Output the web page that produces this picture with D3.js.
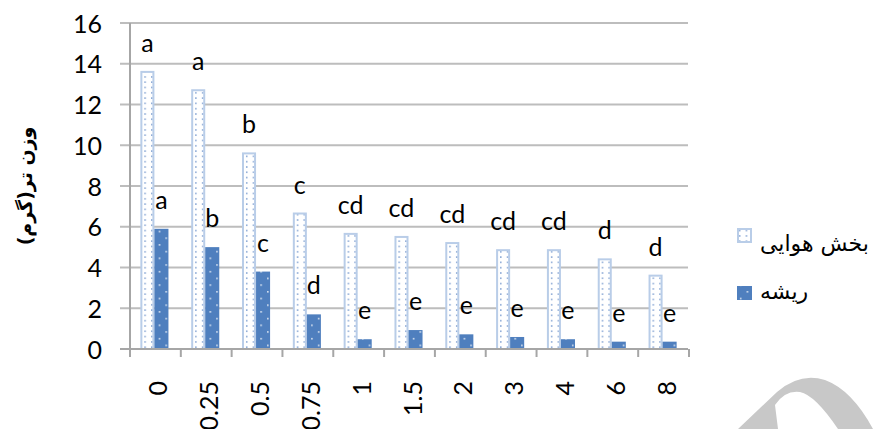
<!DOCTYPE html>
<html>
<head>
<meta charset="utf-8">
<script src="https://cdn.jsdelivr.net/npm/d3@7"></script>
<style>
  body { margin: 0; background: #fff; }
  svg { display: block; }
  .tick text { font-family: Lato, "Open Sans", sans-serif; fill: #000; }
</style>
</head>
<body>
<svg id="chart" width="874" height="429"></svg>
<script>
// values
var categories = ['0', '0.25', '0.5', '0.75', '1', '1.5', '2', '3', '4', '6', '8']
var aerial = [13.6, 12.7, 9.6, 6.65, 5.65, 5.5, 5.2, 4.85, 4.85, 4.4, 3.6]
var root = [5.9, 5.0, 3.8, 1.7, 0.48, 0.93, 0.72, 0.59, 0.48, 0.36, 0.36]
var aerialLetters = ['a', 'a', 'b', 'c', 'cd', 'cd', 'cd', 'cd', 'cd', 'd', 'd']
var rootLetters = ['a', 'b', 'c', 'd', 'e', 'e', 'e', 'e', 'e', 'e', 'e']
var yTicks = [0, 2, 4, 6, 8, 10, 12, 14, 16]
var seriesNames = ['بخش هوایی', 'ریشه']
var yTitle = 'وزن تر(گرم)'

var svg = d3.select('#chart')
var plotLeft = 129, plotRight = 688, plotTop = 23, plotBottom = 349

var defs = svg.append('defs')
var pA = defs.append('pattern').attr('id', 'patAerial').attr('patternUnits', 'userSpaceOnUse')
  .attr('width', 6.7).attr('height', 5.3)
pA.append('rect').attr('width', 6.7).attr('height', 5.3).attr('fill', '#fff')
pA.append('rect').attr('x', 2).attr('y', 2).attr('width', 1.4).attr('height', 1.4).attr('fill', '#6d93cb')

var pR = defs.append('pattern').attr('id', 'patRoot').attr('patternUnits', 'userSpaceOnUse')
  .attr('width', 13.4).attr('height', 13.4)
pR.append('rect').attr('width', 13.4).attr('height', 13.4).attr('fill', '#4f7fbe')
pR.append('rect').attr('x', 3).attr('y', 3).attr('width', 1.4).attr('height', 1.4).attr('fill', '#fff')
pR.append('rect').attr('x', 9.7).attr('y', 9.7).attr('width', 1.4).attr('height', 1.4).attr('fill', '#fff')

var x = d3.scaleBand().domain(categories).range([plotLeft, plotRight]).paddingInner(0).paddingOuter(0)
var x1 = d3.scaleBand().domain(['aerial', 'root']).range([0, x.bandwidth()]).paddingInner(0).paddingOuter(0.81)
var y = d3.scaleLinear().domain([0, 16]).range([plotBottom, plotTop])

// gridlines + left tick stubs
svg.append('g').selectAll('line').data(yTicks).enter().append('line')
  .attr('x1', 120).attr('x2', plotRight)
  .attr('y1', function (d) { return y(d) }).attr('y2', function (d) { return y(d) })
  .attr('stroke', '#bdbdbd').attr('stroke-width', 2)

// y axis labels
var yAxis = svg.append('g').attr('transform', 'translate(102,1)')
  .call(d3.axisLeft(y).tickValues(yTicks).tickSize(0).tickPadding(0))
yAxis.select('.domain').remove()
yAxis.selectAll('text').attr('font-size', 25).attr('text-anchor', 'end').attr('x', 0)

// y axis line
svg.append('line').attr('x1', plotLeft + 1).attr('x2', plotLeft + 1).attr('y1', y(16)).attr('y2', plotBottom + 8)
  .attr('stroke', '#a6a6a6').attr('stroke-width', 2)

// bars
var groups = svg.append('g').selectAll('g').data(categories).enter().append('g')
  .attr('transform', function (d) { return 'translate(' + x(d) + ',0)' })

groups.append('rect')
  .attr('x', x1('aerial') + 1).attr('width', x1.bandwidth() - 2)
  .attr('y', function (d, i) { return y(aerial[i]) })
  .attr('height', function (d, i) { return plotBottom - y(aerial[i]) })
  .attr('fill', 'url(#patAerial)').attr('stroke', '#b9cde8').attr('stroke-width', 2)

groups.append('rect')
  .attr('x', x1('root')).attr('width', x1.bandwidth())
  .attr('y', function (d, i) { return y(root[i]) })
  .attr('height', function (d, i) { return plotBottom - y(root[i]) })
  .attr('fill', 'url(#patRoot)')

// letters
var lf = 'Lato, "Open Sans", sans-serif'
groups.append('text')
  .attr('x', x1('aerial') + x1.bandwidth() / 2)
  .attr('y', function (d, i) { return y(aerial[i]) - 20 })
  .attr('text-anchor', 'middle').attr('font-family', lf).attr('font-size', 25)
  .text(function (d, i) { return aerialLetters[i] })
groups.append('text')
  .attr('x', x1('root') + x1.bandwidth() / 2)
  .attr('y', function (d, i) { return y(root[i]) - 20 })
  .attr('text-anchor', 'middle').attr('font-family', lf).attr('font-size', 25)
  .text(function (d, i) { return rootLetters[i] })

// x axis
svg.append('line').attr('x1', 120).attr('x2', plotRight).attr('y1', plotBottom).attr('y2', plotBottom)
  .attr('stroke', '#a6a6a6').attr('stroke-width', 2)
var bounds = categories.map(function (c) { return x(c) }).concat([plotRight])
svg.append('g').selectAll('line').data(bounds).enter().append('line')
  .attr('x1', function (d) { return d + 1 }).attr('x2', function (d) { return d + 1 })
  .attr('y1', plotBottom).attr('y2', plotBottom + 8)
  .attr('stroke', '#a6a6a6').attr('stroke-width', 2)

svg.append('g').selectAll('text').data(categories).enter().append('text')
  .attr('transform', function (d) { return 'translate(' + (x(d) + x.bandwidth() / 2 + 4) + ',381) rotate(-90)' })
  .attr('dy', '0.36em').attr('text-anchor', 'end')
  .attr('font-family', lf).attr('font-size', 25)
  .text(function (d) { return d })

// y title
svg.append('text').attr('transform', 'translate(25,186) rotate(-90)')
  .attr('dy', '0.35em').attr('text-anchor', 'middle')
  .attr('font-family', '"DejaVu Sans", sans-serif').attr('font-weight', 'bold').attr('font-size', 19)
  .text(yTitle)

// legend
var legend = svg.append('g')
legend.append('rect').attr('x', 738).attr('y', 229).attr('width', 13).attr('height', 13)
  .attr('fill', 'url(#patAerial)').attr('stroke', '#b9cde8').attr('stroke-width', 2)
legend.append('rect').attr('x', 737).attr('y', 286).attr('width', 15).attr('height', 14)
  .attr('fill', 'url(#patRoot)')
legend.selectAll('text').data(seriesNames).enter().append('text')
  .attr('x', 760).attr('y', function (d, i) { return i === 0 ? 251 : 299 })
  .attr('font-family', '"DejaVu Sans", sans-serif').attr('font-size', 22)
  .text(function (d) { return d })

// watermark fragment in the corner
svg.append('path')
  .attr('d', 'M738,429 L777,392 Q800,372 825,380 Q852,390 873,429 L838,429 Q815,395 800,392 Q785,390 775,405 L778,429 Z')
  .attr('fill', '#c8c8c8')
</script>
</body>
</html>
